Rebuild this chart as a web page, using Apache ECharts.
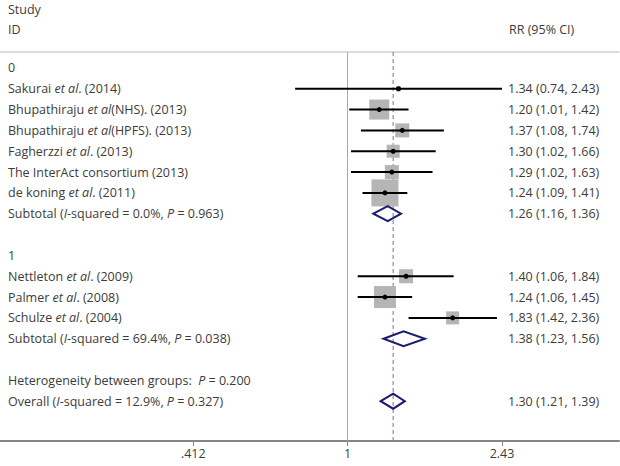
<!DOCTYPE html>
<html><head><meta charset="utf-8">
<script src="https://cdn.jsdelivr.net/npm/echarts@6/dist/echarts.min.js"></script>
<style>html,body{margin:0;padding:0;background:#fff}#c{width:620px;height:466px}</style>
</head><body><div id="c"></div>
<script>
// ---------- data ----------
const groupNames = ['0', '1'];
const studyNames = [
  'Sakurai *et al*. (2014)',
  'Bhupathiraju *et al*(NHS). (2013)',
  'Bhupathiraju *et al*(HPFS). (2013)',
  'Fagherzzi *et al*. (2013)',
  'The InterAct consortium (2013)',
  'de koning *et al*. (2011)',
  'Nettleton *et al*. (2009)',
  'Palmer *et al*. (2008)',
  'Schulze *et al*. (2004)'
];
const studyGroup = [0, 0, 0, 0, 0, 0, 1, 1, 1];
const studyRR = [1.34, 1.20, 1.37, 1.30, 1.29, 1.24, 1.40, 1.24, 1.83];
const studyLo = [0.74, 1.01, 1.08, 1.02, 1.02, 1.09, 1.06, 1.06, 1.42];
const studyHi = [2.43, 1.42, 1.74, 1.66, 1.63, 1.41, 1.84, 1.45, 2.36];
const studyWeight = [1.0, 15.6, 7.6, 6.6, 7.6, 28.4, 7.6, 18.9, 6.6]; // estimated % weights
const subtotalLabels = [
  'Subtotal (*I*-squared = 0.0%, *P* = 0.963)',
  'Subtotal (*I*-squared = 69.4%, *P* = 0.038)'
];
const subtotalRR = [1.26, 1.38];
const subtotalLo = [1.16, 1.23];
const subtotalHi = [1.36, 1.56];
const heterogeneityLabel = 'Heterogeneity between groups:  *P* = 0.200';
const overallLabel = 'Overall (*I*-squared = 12.9%, *P* = 0.327)';
const overallRR = 1.30, overallLo = 1.21, overallHi = 1.39;
const tickValues = [0.412, 1, 2.43];
const tickLabels = ['.412', '1', '2.43'];

// ---------- rows ----------
const rows = [];
groupNames.forEach((g, gi) => {
  rows.push({ kind: 'header', label: g });
  studyNames.forEach((n, si) => {
    if (studyGroup[si] === gi) rows.push({ kind: 'study', label: n, rr: studyRR[si], lo: studyLo[si], hi: studyHi[si], w: studyWeight[si] });
  });
  rows.push({ kind: 'pooled', label: subtotalLabels[gi], rr: subtotalRR[gi], lo: subtotalLo[gi], hi: subtotalHi[gi] });
  rows.push({ kind: 'blank', label: '' });
});
rows.pop();
rows.push({ kind: 'blank', label: '' });
rows.push({ kind: 'header', label: heterogeneityLabel });
rows.push({ kind: 'pooled', label: overallLabel, rr: overallRR, lo: overallLo, hi: overallHi });

const FONT = 'Open Sans';
const FS = 12.5;
const TXT = '#3c3c3c';
const rich = {
  n: { fontFamily: FONT, fontSize: FS, fill: TXT, fontStyle: 'normal' },
  i: { fontFamily: FONT, fontSize: FS, fill: TXT, fontStyle: 'italic' }
};
function toRich(s) {
  return s.split('*').map((p, k) => p ? '{' + (k % 2 ? 'i' : 'n') + '|' + p + '}' : '').join('');
}
const f2 = v => v.toFixed(2);
const maxW = Math.max(...studyWeight);
const yMin = -0.763, yMax = 17.91;

function renderItem(params, api) {
  const r = params.dataIndex;
  const row = rows[r];
  const cy = api.coord([1, r])[1];
  const children = [];
  if (row.label) {
    children.push({ type: 'text', x: 8, y: cy, style: { text: toRich(row.label), rich: rich, fontFamily: FONT, fontSize: FS, fill: TXT, verticalAlign: 'middle', align: 'left' } });
  }
  if (row.kind === 'study' || row.kind === 'pooled') {
    const xe = api.coord([row.rr, r])[0];
    const xl = api.coord([row.lo, r])[0];
    const xh = api.coord([row.hi, r])[0];
    if (row.kind === 'study') {
      const s = 27 * Math.sqrt(row.w / maxW);
      children.push({ type: 'rect', shape: { x: xe - s / 2, y: cy - s / 2, width: s, height: s }, style: { fill: '#b5b5b5' } });
      children.push({ type: 'line', shape: { x1: xl, y1: cy, x2: xh, y2: cy }, style: { stroke: '#000', lineWidth: 2 } });
      children.push({ type: 'circle', shape: { cx: xe, cy: cy, r: 2.5 }, style: { fill: '#000' } });
    } else {
      const h = 7.5;
      children.push({ type: 'polygon', shape: { points: [[xl, cy], [xe, cy - h], [xh, cy], [xe, cy + h]] }, style: { fill: 'none', stroke: '#1b1b72', lineWidth: 2 } });
    }
    children.push({ type: 'text', x: 508, y: cy, style: { text: f2(row.rr) + ' (' + f2(row.lo) + ', ' + f2(row.hi) + ')', fontFamily: FONT, fontSize: FS, fill: TXT, verticalAlign: 'middle', align: 'left' } });
  }
  return { type: 'group', children: children };
}

const chart = echarts.init(document.getElementById('c'), null, { renderer: 'svg' });
const axisCommon = { type: 'log', logBase: 10, min: 0.1357, max: 4.76, splitLine: { show: false } };
chart.setOption({
  animation: false,
  grid: { left: 0, right: 1, top: 52, bottom: 25 },
  xAxis: [
    Object.assign({}, axisCommon, {
      position: 'bottom',
      axisLine: { show: true, onZero: false, lineStyle: { color: '#858585', width: 2 } },
      axisTick: { show: true, customValues: tickValues, length: 5, lineStyle: { color: '#858585', width: 1 } },
      axisLabel: {
        customValues: tickValues, margin: 6, color: TXT, fontFamily: FONT, fontSize: FS,
        formatter: v => { let b = 0; tickValues.forEach((t, k) => { if (Math.abs(t - v) < Math.abs(tickValues[b] - v)) b = k; }); return tickLabels[b]; }
      }
    }),
    Object.assign({}, axisCommon, {
      position: 'top',
      axisLine: { show: true, onZero: false, lineStyle: { color: '#cfcfcf', width: 1.5 } },
      axisTick: { show: false }, axisLabel: { show: false }
    })
  ],
  yAxis: { type: 'value', inverse: true, min: yMin, max: yMax, show: false },
  graphic: [
    { type: 'text', left: 8, top: 3, style: { text: 'Study', fontFamily: FONT, fontSize: FS, fill: TXT } },
    { type: 'text', left: 8, top: 23, style: { text: 'ID', fontFamily: FONT, fontSize: FS, fill: TXT } },
    { type: 'text', left: 509, top: 23, style: { text: 'RR (95% CI)', fontFamily: FONT, fontSize: FS, fill: TXT } }
  ],
  series: [
    { type: 'line', data: [[1, yMin], [1, yMax]], symbol: 'none', silent: true, z: 1, lineStyle: { color: '#a8a8a8', width: 1 } },
    { type: 'line', data: [[overallRR, yMin], [overallRR, yMax]], symbol: 'none', silent: true, z: 1, lineStyle: { color: '#b07a94', width: 1.2, type: [4, 3] } },
    { type: 'custom', renderItem: renderItem, data: rows.map((_, i) => [1, i]), z: 3, silent: true }
  ]
});
</script></body></html>
